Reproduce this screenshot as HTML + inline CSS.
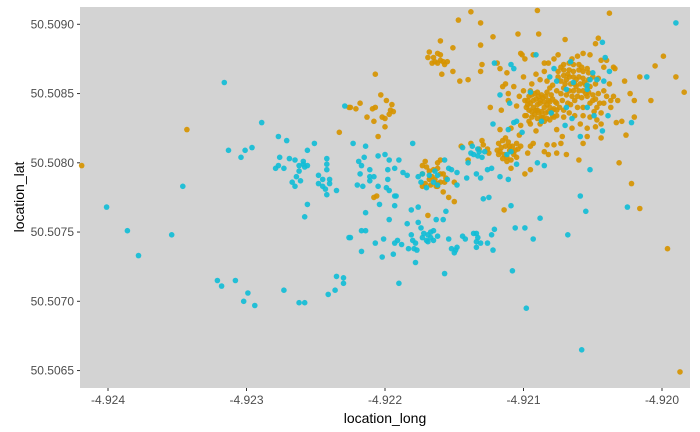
<!DOCTYPE html>
<html><head><meta charset="utf-8"><style>
body{margin:0;background:#fff;}
svg{display:block;font-family:"Liberation Sans",Arial,sans-serif;}
</style></head><body>
<svg id="chart" width="700" height="432">
<rect x="80" y="7" width="610" height="381" fill="#d3d3d3"/>
<g id="marks"></g><g id="axes"></g>
<text x="385" y="423" text-anchor="middle" font-size="14" fill="#000">location_long</text>
<text transform="translate(24,197) rotate(-90)" text-anchor="middle" font-size="14" fill="#000">location_lat</text>
</svg>
<script>
const xTicks=[-4.924,-4.923,-4.922,-4.921,-4.920];
const xTickLabels=["-4.924","-4.923","-4.922","-4.921","-4.920"];
const yTicks=[50.5090,50.5085,50.5080,50.5075,50.5070,50.5065];
const yTickLabels=["50.5090","50.5085","50.5080","50.5075","50.5070","50.5065"];
const orangeLon=[-4.92419,-4.92343,-4.92233,-4.92226,
-4.92138,-4.92147,-4.92131,-4.92122,-4.92104,-4.92089,-4.92090,-4.92070,-4.92038,-4.92046,-4.92048,-4.91999,-4.92005,-4.92016,-4.91990,-4.91984,-4.92008,-4.92020,-4.92023,-4.92027,-4.92020,-4.92029,-4.92033,-4.92026,-4.92031,-4.92022,-4.92016,-4.91996,-4.91987,-4.92060,-4.92044,-4.92054,-4.92057,-4.92072,-4.92091,-4.92069,-4.92073,-4.92083,-4.92078,-4.92076,-4.92082,-4.92085,-4.92093,-4.92095,-4.92097,-4.92099,-4.92095,-4.92109,-4.92114,-4.92169,-4.92150,-4.92154,-4.92158,-4.92162,-4.92160,-4.92156,-4.92150,
-4.92225,-4.92221,-4.92218,-4.92213,-4.92209,-4.92208,-4.92207,-4.92205,-4.92203,-4.92202,-4.92200,-4.92199,-4.92196,-4.92197,-4.92195,-4.92194,-4.92200,-4.92207,-4.92206,-4.92208,
-4.92169,-4.92168,-4.92165,-4.92162,-4.92162,-4.92160,-4.92160,-4.92158,-4.92155,-4.92157,-4.92164,-4.92166,-4.92159,-4.92160,-4.92151,-4.92151,-4.92146,-4.92140,-4.92131,-4.92130,-4.92131,-4.92119,-4.92117,-4.92112,-4.92113,-4.92115,-4.92111,-4.92107,-4.92103,-4.92111,-4.92124,-4.92116,-4.92105,-4.92100,-4.92101,-4.92102,-4.92099,-4.92093,-4.92085,-4.92085,-4.92091,-4.92088,-4.92094,-4.92100,-4.92099,-4.92095,-4.92102,-4.92109,-4.92117,-4.92103,
-4.92118,-4.92115,-4.92113,-4.92111,-4.92108,-4.92106,-4.92117,-4.92114,-4.92112,-4.92109,-4.92107,-4.92119,-4.92113,-4.92110,-4.92105,-4.92102,-4.92115,-4.92112,-4.92108,-4.92118,-4.92105,-4.92130,-4.92129,-4.92132,-4.92126,-4.92125,-4.92140,-4.92145,-4.92138,
-4.92173,-4.92171,-4.92170,-4.92173,-4.92168,-4.92166,-4.92164,-4.92162,-4.92163,-4.92167,-4.92171,-4.92162,-4.92160,-4.92162,-4.92165,-4.92160,-4.92168,-4.92173,-4.92158,-4.92157,
-4.92099,-4.92096,-4.92094,-4.92091,-4.92089,-4.92087,-4.92084,-4.92082,-4.92079,-4.92077,-4.92097,-4.92095,-4.92093,-4.92090,-4.92088,-4.92085,-4.92083,-4.92081,-4.92078,-4.92096,-4.92094,-4.92091,-4.92089,-4.92087,-4.92084,-4.92082,-4.92079,-4.92094,-4.92090,-4.92087,-4.92083,-4.92098,-4.92076,-4.92076,-4.92081,-4.92085,-4.92076,-4.92095,-4.92090,-4.92083,-4.92093,-4.92088,-4.92085,-4.92090,-4.92081,-4.92097,
-4.92073,-4.92071,-4.92067,-4.92064,-4.92060,-4.92058,-4.92054,-4.92075,-4.92071,-4.92067,-4.92064,-4.92060,-4.92057,-4.92053,-4.92075,-4.92071,-4.92067,-4.92064,-4.92060,-4.92057,-4.92053,-4.92073,-4.92070,-4.92066,-4.92063,-4.92059,-4.92055,-4.92052,-4.92071,-4.92067,-4.92064,-4.92060,-4.92057,-4.92053,-4.92069,-4.92065,-4.92061,-4.92058,-4.92054,-4.92050,-4.92048,-4.92046,-4.92042,-4.92040,-4.92037,-4.92042,-4.92047,-4.92049,-4.92044,-4.92052,-4.92057,-4.92061,-4.92066,-4.92071,-4.92072,-4.92076,-4.92079,-4.92083,-4.92081,-4.92048,-4.92046,-4.92044,-4.92040,-4.92052,-4.92057,-4.92061,-4.92065,-4.92075,-4.92078,-4.92082,-4.92071,-4.92067,-4.92063,-4.92057,-4.92052,-4.92047,-4.92044,-4.92048,-4.92054,-4.92059,-4.92065,-4.92078,-4.92076,-4.92042,-4.92035,-4.92034,-4.92037,-4.92038,-4.92035,-4.92032,
-4.92092,-4.92086,-4.92080,-4.92098,-4.92092,-4.92086,-4.92079,-4.92074,-4.92096,-4.92088,
-4.92068,-4.92062,-4.92056,-4.92050,-4.92069,-4.92062,-4.92055,-4.92050,-4.92045,-4.92063,-4.92068,-4.92073,
-4.92116,-4.92110,-4.92104];
const orangeLat=[50.50798,50.50824,50.50822,50.50840,
50.50909,50.50903,50.50901,50.50891,50.50893,50.50893,50.50910,50.50889,50.50908,50.50890,50.50886,50.50877,50.50870,50.50862,50.50862,50.50851,50.50845,50.50845,50.50850,50.50859,50.50833,50.50830,50.50829,50.50820,50.50800,50.50785,50.50767,50.50738,50.50649,50.50802,50.50818,50.50819,50.50814,50.50819,50.50823,50.50806,50.50814,50.50813,50.50813,50.50807,50.50806,50.50808,50.50814,50.50812,50.50807,50.50792,50.50795,50.50796,50.50766,50.50762,50.50772,50.50775,50.50779,50.50783,50.50786,50.50789,50.50786,
50.50840,50.50839,50.50843,50.50833,50.50839,50.50830,50.50840,50.50819,50.50849,50.50833,50.50826,50.50845,50.50838,50.50835,50.50842,50.50837,50.50832,50.50864,50.50776,50.50775,
50.50876,50.50880,50.50876,50.50879,50.50872,50.50878,50.50874,50.50873,50.50873,50.50871,50.50873,50.50872,50.50864,50.50888,50.50883,50.50866,50.50859,50.50860,50.50885,50.50871,50.50866,50.50872,50.50868,50.50865,50.50857,50.50855,50.50850,50.50855,50.50848,50.50845,50.50840,50.50838,50.50841,50.50862,50.50878,50.50879,50.50875,50.50878,50.50872,50.50866,50.50864,50.50860,50.50857,50.50852,50.50834,50.50828,50.50827,50.50825,50.50824,50.50820,
50.50814,50.50816,50.50818,50.50815,50.50812,50.50809,50.50808,50.50806,50.50804,50.50802,50.50806,50.50809,50.50812,50.50809,50.50814,50.50812,50.50803,50.50801,50.50808,50.50806,50.50804,50.50816,50.50813,50.50810,50.50810,50.50807,50.50802,50.50812,50.50814,
50.50798,50.50801,50.50797,50.50792,50.50794,50.50790,50.50788,50.50785,50.50783,50.50784,50.50785,50.50800,50.50802,50.50796,50.50795,50.50792,50.50788,50.50783,50.50792,50.50786,
50.50845,50.50848,50.50849,50.50846,50.50848,50.50849,50.50848,50.50845,50.50846,50.50844,50.50842,50.50843,50.50840,50.50842,50.50843,50.50840,50.50842,50.50840,50.50839,50.50838,50.50837,50.50838,50.50836,50.50837,50.50836,50.50837,50.50834,50.50833,50.50832,50.50833,50.50832,50.50834,50.50843,50.50838,50.50831,50.50830,50.50834,50.50852,50.50851,50.50851,50.50845,50.50845,50.50844,50.50838,50.50844,50.50845,
50.50869,50.50871,50.50872,50.50871,50.50871,50.50869,50.50868,50.50866,50.50867,50.50867,50.50866,50.50867,50.50866,50.50865,50.50862,50.50863,50.50862,50.50862,50.50862,50.50861,50.50860,50.50859,50.50857,50.50857,50.50857,50.50857,50.50856,50.50855,50.50854,50.50852,50.50852,50.50852,50.50852,50.50851,50.50849,50.50848,50.50848,50.50847,50.50848,50.50849,50.50846,50.50850,50.50852,50.50848,50.50845,50.50843,50.50840,50.50837,50.50836,50.50843,50.50840,50.50840,50.50842,50.50838,50.50845,50.50852,50.50856,50.50859,50.50854,50.50857,50.50861,50.50874,50.50874,50.50878,50.50879,50.50877,50.50875,50.50878,50.50875,50.50872,50.50833,50.50836,50.50834,50.50834,50.50833,50.50831,50.50828,50.50826,50.50825,50.50828,50.50825,50.50833,50.50824,50.50869,50.50869,50.50868,50.50840,50.50857,50.50848,50.50845,
50.50850,50.50847,50.50849,50.50840,50.50835,50.50833,50.50838,50.50840,50.50830,50.50828,
50.50864,50.50860,50.50858,50.50862,50.50860,50.50855,50.50850,50.50845,50.50843,50.50845,50.50843,50.50850,
50.50811,50.50812,50.50810];
const cyanLon=[-4.92316,-4.92313,-4.92304,-4.92289,-4.92301,-4.92296,-4.92277,-4.92271,-4.92256,-4.92258,-4.92277,-4.92276,-4.92279,-4.92273,-4.92269,-4.92265,-4.92262,-4.92262,-4.92259,-4.92267,-4.92261,-4.92265,-4.92264,-4.92259,-4.92256,-4.92251,-4.92248,-4.92248,-4.92245,-4.92245,-4.92243,-4.92242,-4.92242,-4.92242,-4.92240,-4.92240,-4.92235,-4.92242,-4.92258,-4.92256,-4.92401,-4.92386,-4.92378,-4.92354,-4.92346,-4.92321,-4.92318,-4.92308,-4.92302,-4.92299,-4.92294,-4.92273,-4.92262,-4.92258,-4.92241,-4.92236,-4.92235,-4.92230,-4.92230,-4.92229,-4.92226,
-4.91990,-4.92043,-4.92011,-4.92121,-4.92109,-4.92107,-4.92091,-4.92066,-4.92078,-4.92041,-4.92050,-4.92052,-4.92047,-4.92038,-4.92042,-4.92054,-4.92054,-4.92069,-4.92064,-4.92076,-4.92081,-4.92095,-4.92117,-4.92110,-4.92105,-4.92107,-4.92122,-4.92111,-4.92101,-4.92070,-4.92065,-4.92054,-4.92069,-4.92043,-4.92059,-4.92049,-4.92039,-4.92022,-4.92080,-4.92087,-4.92052,-4.92085,-4.92090,-4.92105,-4.92109,-4.92112,-4.92111,-4.92117,-4.92123,-4.92126,-4.92130,-4.92128,-4.92133,-4.92133,-4.92137,-4.92138,-4.92144,-4.92141,-4.92134,-4.92131,-4.92129,-4.92125,-4.92148,-4.92154,-4.92157,-4.92152,-4.92155,-4.92148,-4.92164,-4.92162,-4.92165,-4.92168,-4.92173,-4.92176,-4.92174,-4.92170,-4.92162,-4.92184,-4.92187,-4.92193,-4.92198,-4.92200,-4.92205,-4.92211,-4.92208,-4.92214,-4.92215,-4.92219,-4.92217,-4.92218,-4.92220,-4.92216,-4.92211,-4.92211,-4.92205,-4.92199,-4.92197,-4.92193,-4.92192,-4.92193,-4.92204,-4.92198,-4.92197,-4.92190,-4.92180,-4.92223,-4.92225,-4.92214,-4.92214,-4.92217,-4.92217,-4.92207,-4.92202,-4.92201,-4.92197,-4.92194,-4.92193,-4.92191,-4.92188,-4.92190,-4.92178,-4.92181,-4.92176,-4.92184,-4.92176,-4.92174,-4.92173,-4.92172,-4.92169,-4.92167,-4.92165,-4.92170,-4.92167,-4.92162,-4.92169,-4.92165,-4.92181,-4.92180,-4.92183,-4.92179,-4.92177,-4.92178,-4.92163,-4.92158,-4.92156,-4.92154,-4.92157,-4.92152,-4.92149,-4.92148,-4.92150,-4.92144,-4.92142,-4.92136,-4.92134,-4.92133,-4.92134,-4.92134,-4.92131,-4.92126,-4.92123,-4.92121,-4.92122,-4.92109,-4.92106,-4.92099,-4.92088,-4.92093,-4.92108,-4.92098,-4.92068,-4.92059,-4.92055,-4.92025,-4.92058,-4.92136,-4.92132,-4.92140];
const cyanLat=[50.50858,50.50809,50.50804,50.50829,50.50809,50.50811,50.50819,50.50816,50.50809,50.50797,50.50798,50.50804,50.50796,50.50796,50.50803,50.50802,50.50798,50.50794,50.50799,50.50786,50.50787,50.50783,50.50790,50.50801,50.50798,50.50814,50.50791,50.50785,50.50788,50.50783,50.50781,50.50803,50.50799,50.50795,50.50788,50.50785,50.50780,50.50777,50.50761,50.50770,50.50768,50.50751,50.50733,50.50748,50.50783,50.50715,50.50711,50.50715,50.50700,50.50706,50.50697,50.50708,50.50699,50.50699,50.50705,50.50708,50.50718,50.50717,50.50713,50.50841,50.50746,
50.50901,50.50887,50.50862,50.50872,50.50871,50.50868,50.50878,50.50873,50.50868,50.50876,50.50865,50.50860,50.50860,50.50866,50.50859,50.50856,50.50853,50.50853,50.50858,50.50859,50.50862,50.50851,50.50849,50.50843,50.50830,50.50829,50.50828,50.50824,50.50822,50.50827,50.50832,50.50840,50.50840,50.50823,50.50819,50.50834,50.50834,50.50829,50.50836,50.50830,50.50795,50.50798,50.50800,50.50799,50.50808,50.50806,50.50788,50.50790,50.50796,50.50795,50.50804,50.50808,50.50805,50.50810,50.50812,50.50807,50.50811,50.50789,50.50792,50.50789,50.50774,50.50775,50.50793,50.50796,50.50802,50.50795,50.50788,50.50784,50.50794,50.50791,50.50786,50.50791,50.50792,50.50790,50.50786,50.50782,50.50784,50.50791,50.50793,50.50796,50.50795,50.50806,50.50805,50.50790,50.50790,50.50812,50.50804,50.50801,50.50798,50.50792,50.50784,50.50783,50.50795,50.50787,50.50783,50.50782,50.50780,50.50776,50.50776,50.50769,50.50770,50.50788,50.50802,50.50802,50.50814,50.50814,50.50746,50.50764,50.50751,50.50751,50.50736,50.50742,50.50732,50.50745,50.50759,50.50734,50.50742,50.50744,50.50741,50.50713,50.50728,50.50766,50.50768,50.50756,50.50757,50.50753,50.50746,50.50749,50.50748,50.50750,50.50751,50.50744,50.50746,50.50747,50.50743,50.50744,50.50748,50.50744,50.50738,50.50738,50.50737,50.50742,50.50759,50.50759,50.50765,50.50745,50.50720,50.50738,50.50737,50.50739,50.50735,50.50747,50.50745,50.50749,50.50749,50.50746,50.50743,50.50739,50.50742,50.50742,50.50748,50.50752,50.50737,50.50769,50.50753,50.50753,50.50760,50.50745,50.50722,50.50695,50.50748,50.50776,50.50765,50.50768,50.50665,50.50806,50.50808,50.50800];

const NS='http://www.w3.org/2000/svg';
function xScale(lon){return 108+(lon+4.924)*138500;}
function yScale(lat){return 24.3+(50.509-lat)*138500;}
const marks=document.getElementById('marks');
const axes=document.getElementById('axes');
function drawSeries(lons,lats,color,name){
  for(let i=0;i<lons.length;i++){
    const c=document.createElementNS(NS,'circle');
    c.setAttribute('cx',xScale(lons[i]).toFixed(1));
    c.setAttribute('cy',yScale(lats[i]).toFixed(1));
    c.setAttribute('r','2.8');
    c.setAttribute('fill',color);
    c.setAttribute('fill-opacity','0.92');
    
    
    marks.appendChild(c);
  }
}
drawSeries(orangeLon,orangeLat,'#d69400','point-orange');
drawSeries(cyanLon,cyanLat,'#12bdd6','point-cyan');
xTicks.forEach((v,i)=>{
  const x=xScale(v);
  const l=document.createElementNS(NS,'line');
  l.setAttribute('x1',x);l.setAttribute('x2',x);l.setAttribute('y1',388);l.setAttribute('y2',391);
  l.setAttribute('stroke','#333');
  
  
  axes.appendChild(l);
  const t=document.createElementNS(NS,'text');
  t.setAttribute('x',x);t.setAttribute('y',404);t.setAttribute('text-anchor','middle');
  t.setAttribute('font-size','12');t.setAttribute('fill','#4d4d4d');
  t.textContent=xTickLabels[i];
  
  
  axes.appendChild(t);
});
yTicks.forEach((v,i)=>{
  const y=yScale(v);
  const l=document.createElementNS(NS,'line');
  l.setAttribute('x1',77);l.setAttribute('x2',80);l.setAttribute('y1',y);l.setAttribute('y2',y);
  l.setAttribute('stroke','#333');
  
  
  axes.appendChild(l);
  const t=document.createElementNS(NS,'text');
  t.setAttribute('x',74);t.setAttribute('y',y+4);t.setAttribute('text-anchor','end');
  t.setAttribute('font-size','12');t.setAttribute('fill','#4d4d4d');
  t.textContent=yTickLabels[i];
  
  
  axes.appendChild(t);
});
</script>
</body></html>
